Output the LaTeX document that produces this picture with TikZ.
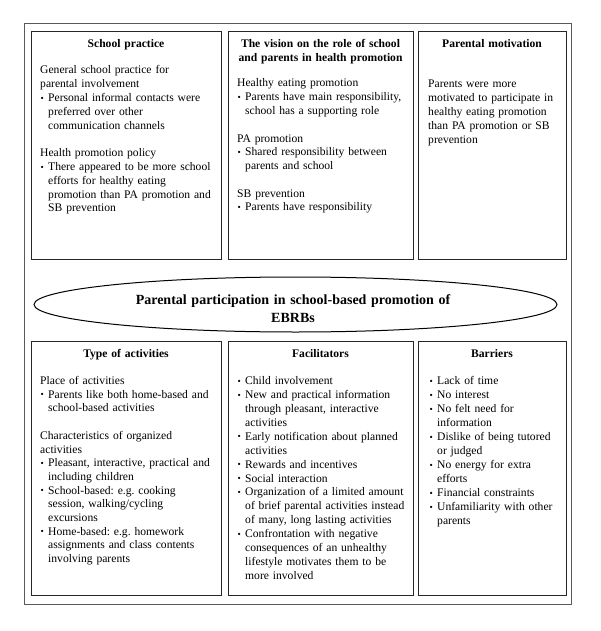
\documentclass[tikz,border=0pt]{standalone}
\usepackage{fontspec}
\setmainfont{Liberation Serif}
\usetikzlibrary{shapes.geometric}
\newcommand{\bul}{\makebox[8pt][l]{\hspace*{0.4pt}\raisebox{0.4pt}{\scalebox{0.8}{\textbullet}}}}
\newcommand{\hng}{\hspace*{8pt}}
\frenchspacing
\begin{document}
\begin{tikzpicture}[x=1pt,y=-1pt,
  frame/.style={draw=black!65, line width=1pt, inner sep=0, minimum width=547pt, minimum height=580pt},
  box/.style={draw=black!85, line width=1pt, inner sep=0},
  topbox/.style={box, minimum height=227pt},
  botbox/.style={box, minimum height=253.3pt},
  body/.style={anchor=base west, inner sep=0, text width=200pt, align=left, font=\fontsize{11.6}{13.8}\selectfont\frenchspacing},
  ttl/.style={anchor=base, inner sep=0, text width=180pt, align=center, font=\fontsize{11.6}{13.5}\selectfont\bfseries},
  core/.style={draw=black, line width=1pt, ellipse, inner sep=0, minimum width=523pt, minimum height=55pt},
  coretxt/.style={anchor=base, inner sep=0, text width=400pt, align=center, font=\fontsize{14}{18.5}\selectfont\bfseries}
]
\useasboundingbox (0,0) rectangle (600,631);
\node[frame] (fr) at (297.5,314) {};
% top row
\node[topbox, minimum width=190pt] (sp) at (126,145.5) {};
\node[topbox, minimum width=185pt] (vis) at (320.5,145.5) {};
\node[topbox, minimum width=148pt] (pm) at (492,145.5) {};
% bottom row
\node[botbox, minimum width=190pt] (ta) at (126,468.35) {};
\node[botbox, minimum width=185pt] (fa) at (320.5,468.35) {};
\node[botbox, minimum width=148pt] (ba) at (492,468.35) {};
% ellipse
\node[core] (ell) at (295.5,304.5) {};
\node[coretxt] (elltxt) at (293,304) {Parental participation in school-based promotion of\\EBRBs};
% titles
\node[ttl] (spt) at (126,48) {School practice};
\node[ttl] (vist) at (320.5,48) {The vision on the role of school\\and parents in health promotion};
\node[ttl] (pmt) at (492,48) {Parental motivation};
\node[ttl] (tat) at (126,357.7) {Type of activities};
\node[ttl] (fat) at (320.5,357.7) {Facilitators};
\node[ttl] (bat) at (492,357.7) {Barriers};
% bodies
\node[body] (spb) at (40,74) {General school practice for\\
parental involvement\\
\bul Personal informal contacts were\\
\hng preferred over other\\
\hng communication channels\\[13.7pt]
Health promotion policy\\
\bul There appeared to be more school\\
\hng efforts for healthy eating\\
\hng promotion than PA promotion and\\
\hng SB prevention};
\node[body] (visb) at (237,87) {Healthy eating promotion\\
\bul Parents have main responsibility,\\
\hng school has a supporting role\\[13.7pt]
PA promotion\\
\bul Shared responsibility between\\
\hng parents and school\\[13.7pt]
SB prevention\\
\bul Parents have responsibility};
\node[body] (pmb) at (428,88) {Parents were more\\
motivated to participate in\\
healthy eating promotion\\
than PA promotion or SB\\
prevention};
\node[body, font=\fontsize{11.6}{13.7}\selectfont\frenchspacing] (tab) at (40,384.5) {Place of activities\\
\bul Parents like both home-based and\\
\hng school-based activities\\[13.7pt]
Characteristics of organized\\
activities\\
\bul Pleasant, interactive, practical and\\
\hng including children\\
\bul School-based: e.g. cooking\\
\hng session, walking/cycling\\
\hng excursions\\
\bul Home-based: e.g. homework\\
\hng assignments and class contents\\
\hng involving parents};
\node[body, font=\fontsize{11.6}{13.9}\selectfont\frenchspacing] (fab) at (237,384.7) {\bul Child involvement\\
\bul New and practical information\\
\hng through pleasant, interactive\\
\hng activities\\
\bul Early notification about planned\\
\hng activities\\
\bul Rewards and incentives\\
\bul Social interaction\\
\bul Organization of a limited amount\\
\hng of brief parental activities instead\\
\hng of many, long lasting activities\\
\bul Confrontation with negative\\
\hng consequences of an unhealthy\\
\hng lifestyle motivates them to be\\
\hng more involved};
\node[body, font=\fontsize{11.6}{14}\selectfont\frenchspacing] (bab) at (429,384.7) {\bul Lack of time\\
\bul No interest\\
\bul No felt need for\\
\hng information\\
\bul Dislike of being tutored\\
\hng or judged\\
\bul No energy for extra\\
\hng efforts\\
\bul Financial constraints\\
\bul Unfamiliarity with other\\
\hng parents};
\end{tikzpicture}
\end{document}
